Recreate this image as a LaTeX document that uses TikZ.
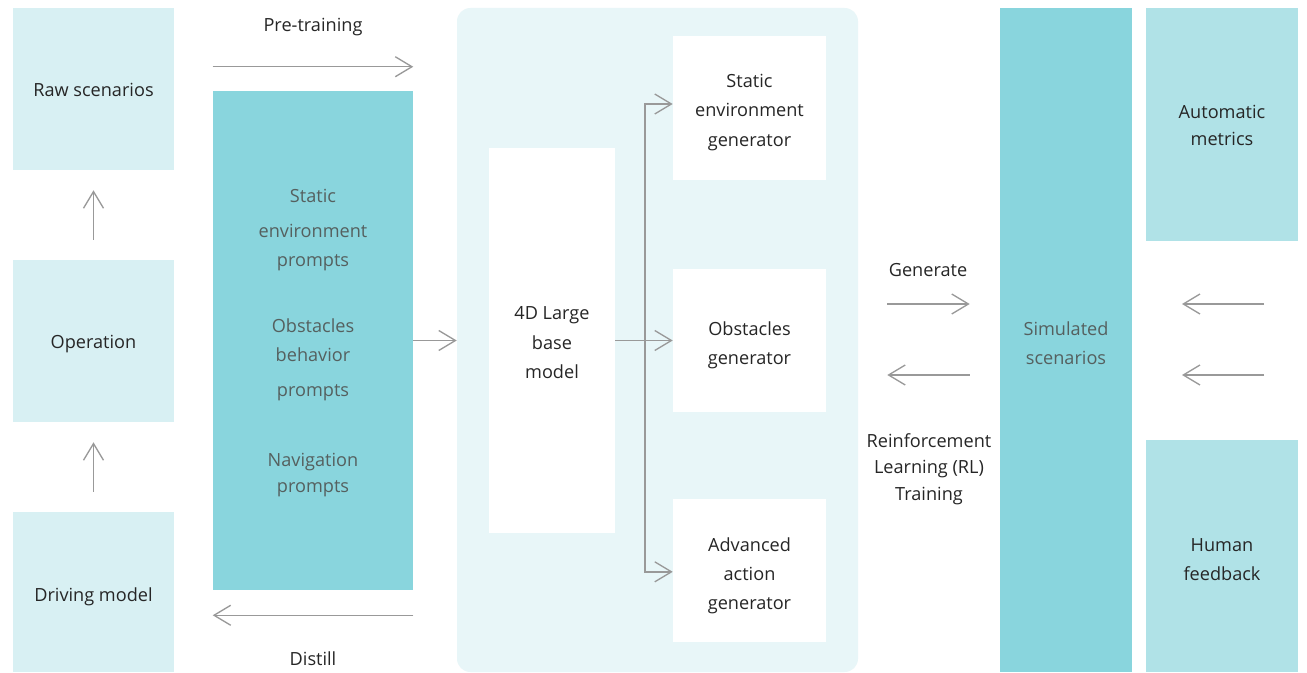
\documentclass[tikz,border=0pt]{standalone}
\usepackage{fontspec}
\setmainfont{Open Sans}
\usetikzlibrary{arrows.meta,fit}
\definecolor{lightteal}{HTML}{D8F0F3}
\definecolor{darkteal}{HTML}{89D5DD}
\definecolor{midteal}{HTML}{B0E2E7}
\definecolor{panel}{HTML}{E8F6F8}
\definecolor{arrowgray}{HTML}{999999}
\definecolor{ink}{HTML}{262626}
\definecolor{softink}{HTML}{55605F}
\tikzset{
  x=0.75pt, y=-0.75pt,
  every node/.style={font=\fontsize{13.6}{22}\selectfont, text=ink},
  blockbase/.style={inner sep=0pt, draw=none},
  lightblock/.style={blockbase, fill=lightteal},
  darkblock/.style={blockbase, fill=darkteal},
  midblock/.style={blockbase, fill=midteal},
  whiteblock/.style={blockbase, fill=white},
  panelbox/.style={blockbase, fill=panel, rounded corners=10pt},
  arr/.style={draw=arrowgray, line width=1pt,
    -{Straight Barb[length=12.5pt, width=15pt, line width=1pt]}},
  lbl/.style={inner sep=0pt, align=center},
  softlbl/.style={lbl, text=softink}
}
\begin{document}
\begin{tikzpicture}
\useasboundingbox[fill=white] (0,0) rectangle (1307,673);

% left column
\node[lightblock, fit={(13,8) (174,170)}] (raw) {};
\node[lbl] (rawtxt) at ([yshift=-0.75pt]raw.center) {Raw scenarios};
\node[lightblock, fit={(13,260) (174,422)}] (oper) {};
\node[lbl] (opertxt) at ([yshift=-2.25pt]oper.center) {Operation};
\node[lightblock, fit={(13,512) (174,672)}] (drive) {};
\node[lbl] (drivetxt) at ([yshift=-3.75pt]drive.center) {Driving model};
\draw[arr, shorten <=15pt, shorten >=15pt] (oper.north) -- (raw.south);
\draw[arr, shorten <=15pt, shorten >=15pt] (drive.north) -- (oper.south);

% prompts column
\node[darkblock, fit={(213,91) (413,590)}] (prompts) {};
\node[softlbl] (p1) at (313,230) {Static\\[4.5pt]environment\\[-0.75pt]prompts};
\node[softlbl] (p2) at (313,360) {Obstacles\\[-0.75pt]behavior\\[4.5pt]prompts};
\node[softlbl] (p3) at (313,475) {Navigation\\[-2pt]prompts};
\draw[arr] ([yshift=18pt]prompts.north west) -- ([yshift=18pt]prompts.north east);
\node[lbl] (pretrain) at (313,27) {Pre-training};
\draw[arr] ([yshift=-18.75pt]prompts.south east) -- ([yshift=-18.75pt]prompts.south west);
\node[lbl] (distill) at (313,659) {Distill};

% model panel
\node[panelbox, fit={(457,8) (858,672)}] (panel) {};
\draw[arr] (prompts.east) -- (panel.west |- prompts.east);
\node[whiteblock, fit={(489,148) (615,533)}] (base) {};
\node[lbl] (basetxt) at ([yshift=-1.75pt]base.center) {4D Large\\base\\model};
\node[whiteblock, fit={(673,36) (826,180)}] (static) {};
\node[lbl] (statictxt) at ([yshift=-3.25pt]static.center) {Static\\environment\\generator};
\node[whiteblock, fit={(673,269) (826,412)}] (obst) {};
\node[lbl] (obsttxt) at ([yshift=-3.75pt]obst.center) {Obstacles\\generator};
\node[whiteblock, fit={(673,499) (826,642)}] (adv) {};
\node[lbl] (advtxt) at ([yshift=-4pt]adv.center) {Advanced\\action\\generator};
\coordinate (split) at (645,340.5);
\draw[arr] (base.east) -- (obst.west |- base.east);
\draw[arr] (split) |- ([yshift=3pt]static.west);
\draw[arr] (split) |- ([yshift=-1pt]adv.west);

% simulation and feedback
\node[darkblock, fit={(1000,8) (1132,672)}] (sim) {};
\node[softlbl] (simtxt) at ([yshift=-2.5pt]sim.center) {Simulated\\scenarios};
\draw[arr, shorten <=21.75pt, shorten >=22.5pt] ([yshift=27pt]panel.east) -- ([yshift=27pt]sim.west);
\draw[arr, shorten <=22.5pt, shorten >=21.75pt] ([yshift=-26.25pt]sim.west) -- ([yshift=-26.25pt]panel.east);
\node[lbl] (gen) at (928,270) {Generate};
\node[lbl] (rl) at (929,469) {Reinforcement\\[-2pt]Learning (RL)\\[-2pt]Training};

\node[midblock, fit={(1146,8) (1298,241)}] (auto) {};
\node[lbl] (autotxt) at ([yshift=-0.75pt]auto.center) {Automatic\\[-2pt]metrics};
\node[midblock, fit={(1146,440) (1298,672)}] (human) {};
\node[lbl] (humantxt) at ([yshift=-2.75pt]human.center) {Human\\feedback};
\coordinate (fa) at (1264,304);
\coordinate (fb) at (1264,375);
\draw[arr] (fa) -- ++(-82,0);
\draw[arr] (fb) -- ++(-82,0);
\end{tikzpicture}
\end{document}
